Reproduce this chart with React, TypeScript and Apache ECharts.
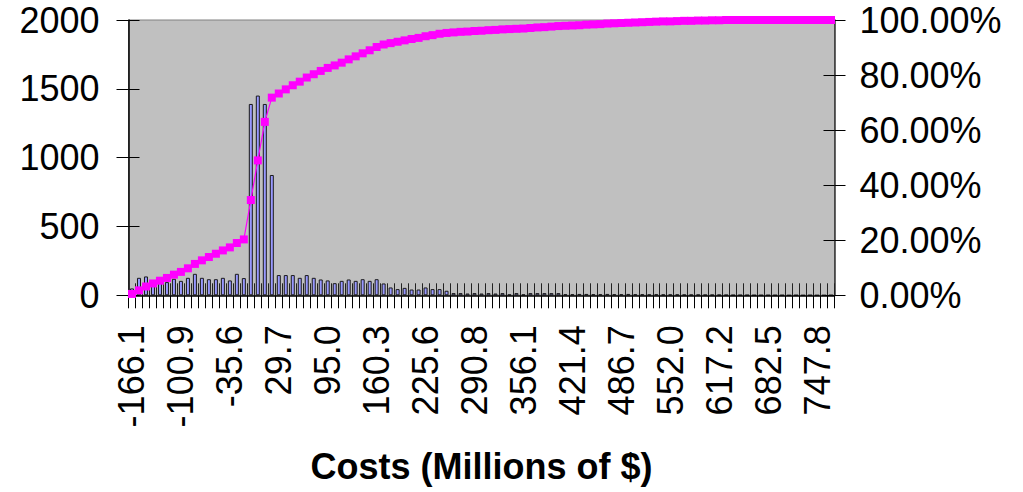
import React, { useEffect, useRef } from "react";
import * as echarts from "echarts";

const categories: string[] = [
  "-166.1", "-156.8", "-147.5", "-138.2", "-128.8", "-119.5", "-110.2",
  "-100.9", "-91.5", "-82.2", "-72.9", "-63.6", "-54.2", "-44.9",
  "-35.6", "-26.3", "-16.9", "-7.6", "1.7", "11.0", "20.4",
  "29.7", "39.0", "48.4", "57.7", "67.0", "76.3", "85.7",
  "95.0", "104.3", "113.6", "123.0", "132.3", "141.6", "150.9",
  "160.3", "169.6", "178.9", "188.2", "197.6", "206.9", "216.2",
  "225.6", "234.9", "244.2", "253.5", "262.9", "272.2", "281.5",
  "290.8", "300.2", "309.5", "318.8", "328.1", "337.5", "346.8",
  "356.1", "365.4", "374.8", "384.1", "393.4", "402.7", "412.1",
  "421.4", "430.7", "440.1", "449.4", "458.7", "468.0", "477.4",
  "486.7", "496.0", "505.3", "514.7", "524.0", "533.3", "542.6",
  "552.0", "561.3", "570.6", "579.9", "589.3", "598.6", "607.9",
  "617.2", "626.6", "635.9", "645.2", "654.6", "663.9", "673.2",
  "682.5", "691.9", "701.2", "710.5", "719.8", "729.2", "738.5",
  "747.8", "757.1", "766.5",
];

const frequency: number[] = [
  50, 127, 137, 108, 103, 96, 120, 105, 127, 156,
  127, 117, 117, 127, 108, 156, 125, 1390, 1451, 1390,
  874, 147, 147, 147, 127, 147, 127, 115, 108, 88,
  105, 115, 105, 117, 105, 117, 86, 57, 45, 54,
  42, 42, 57, 45, 45, 33, 16, 16, 13, 16,
  13, 16, 13, 16, 6, 16, 6, 16, 16, 16,
  16, 16, 8, 8, 10, 10, 8, 8, 10, 8,
  8, 10, 8, 8, 6, 8, 6, 6, 6, 5,
  5, 5, 4, 4, 4, 3, 2, 2, 2, 1,
  1, 1, 1, 1, 0, 1, 0, 1, 0, 0,
  1,
];

const cumulativePct: number[] = [
  0.5, 1.8, 3.2, 4.3, 5.3, 6.3, 7.5, 8.5, 9.8, 11.4,
  12.7, 13.9, 15.1, 16.3, 17.4, 19.0, 20.3, 34.6, 49.0, 63.0,
  71.8, 73.3, 74.8, 76.3, 77.6, 79.1, 80.3, 81.5, 82.6, 83.5,
  84.5, 85.7, 86.8, 87.9, 89.0, 90.2, 91.1, 91.6, 92.1, 92.6,
  93.1, 93.5, 94.1, 94.5, 95.0, 95.3, 95.5, 95.7, 95.8, 96.0,
  96.1, 96.3, 96.4, 96.6, 96.7, 96.8, 96.9, 97.1, 97.3, 97.4,
  97.6, 97.8, 97.9, 98.0, 98.1, 98.3, 98.4, 98.5, 98.7, 98.8,
  98.9, 99.0, 99.1, 99.2, 99.3, 99.4, 99.5, 99.5, 99.6, 99.7,
  99.7, 99.8, 99.8, 99.9, 99.9, 100, 100, 100, 100, 100,
  100, 100, 100, 100, 100, 100, 100, 100, 100, 100,
  100,
];

const leftTicks = { min: 0, max: 2000, interval: 500 };
const rightTicks = { min: 0, max: 100, interval: 20 };

const FONT = '"Liberation Sans", Arial, sans-serif';

export default function App() {
  const ref = useRef<HTMLDivElement>(null);

  useEffect(() => {
    if (!ref.current) return;
    const chart = echarts.init(ref.current, undefined, { renderer: "svg" });
    const tickStyle = { color: "#000", width: 1 };
    chart.setOption({
      animation: false,
      backgroundColor: "#ffffff",
      grid: {
        left: 128.5,
        right: 188.5,
        top: 20,
        bottom: 196.7,
        show: true,
        backgroundColor: "#C0C0C0",
        borderColor: "#808080",
        borderWidth: 1,
        containLabel: false,
      },
      xAxis: [
        {
          type: "category",
          data: categories,
          position: "bottom",
          boundaryGap: true,
          axisLine: { show: true, lineStyle: { color: "#000", width: 1.5 } },
          axisTick: { show: true, interval: 0, length: 13, lineStyle: tickStyle },
          axisLabel: {
            interval: 6,
            rotate: 90,
            margin: 30,
            fontSize: 36,
            fontFamily: FONT,
            color: "#000",
          },
          name: "Costs (Millions of $)",
          nameLocation: "middle",
          nameGap: 153,
          nameTextStyle: {
            fontSize: 36,
            fontWeight: "bold",
            fontFamily: FONT,
            color: "#000",
            verticalAlign: "top",
          },
          splitLine: { show: false },
          z: 3,
        },
        {
          type: "category",
          data: categories,
          position: "bottom",
          boundaryGap: true,
          axisLine: { show: false },
          axisTick: { show: true, inside: true, interval: 0, length: 12, lineStyle: { color: "#222", width: 1 } },
          axisLabel: { show: false },
          splitLine: { show: false },
          z: 3,
        },
      ],
      yAxis: [
        {
          type: "value",
          position: "left",
          min: leftTicks.min,
          max: leftTicks.max,
          interval: leftTicks.interval,
          axisLine: { show: true, lineStyle: { color: "#000", width: 1.5 } },
          axisTick: { show: true, length: 12, lineStyle: tickStyle },
          axisLabel: {
            margin: 29,
            fontSize: 36,
            fontFamily: FONT,
            color: "#000",
            formatter: (v: number) => String(v),
          },
          splitLine: { show: false },
        },
        {
          type: "value",
          position: "right",
          min: rightTicks.min,
          max: rightTicks.max,
          interval: rightTicks.interval,
          axisLine: { show: true, lineStyle: { color: "#333", width: 1.5 } },
          axisTick: { show: true, length: 11, lineStyle: tickStyle },
          axisLabel: {
            margin: 25,
            fontSize: 36,
            fontFamily: FONT,
            color: "#000",
            formatter: (v: number) => v.toFixed(2) + "%",
          },
          splitLine: { show: false },
        },
        {
          type: "value",
          position: "left",
          min: leftTicks.min,
          max: leftTicks.max,
          interval: leftTicks.interval,
          axisLine: { show: false },
          axisTick: { show: true, inside: true, length: 11, lineStyle: tickStyle },
          axisLabel: { show: false },
          splitLine: { show: false },
        },
        {
          type: "value",
          position: "right",
          min: rightTicks.min,
          max: rightTicks.max,
          interval: rightTicks.interval,
          axisLine: { show: false },
          axisTick: { show: true, inside: true, length: 11, lineStyle: tickStyle },
          axisLabel: { show: false },
          splitLine: { show: false },
        },
      ],
      series: [
        {
          name: "Frequency",
          type: "bar",
          xAxisIndex: 0,
          yAxisIndex: 0,
          data: frequency,
          barWidth: 4,
          itemStyle: { color: "#9999FF", borderColor: "#1a1a1a", borderWidth: 1 },
          z: 2,
        },
        {
          name: "Cumulative %",
          type: "line",
          xAxisIndex: 0,
          yAxisIndex: 1,
          data: cumulativePct,
          symbol: "rect",
          symbolSize: 8,
          showSymbol: true,
          showAllSymbol: true,
          lineStyle: { color: "#FF00FF", width: 1.2 },
          itemStyle: { color: "#FF00FF" },
          z: 4,
        },
      ],
    });
    return () => chart.dispose();
  }, []);

  return (
    <div
      ref={ref}
      style={{ position: "fixed", left: 0, top: 0, width: 1023, height: 492 }}
    />
  );
}
